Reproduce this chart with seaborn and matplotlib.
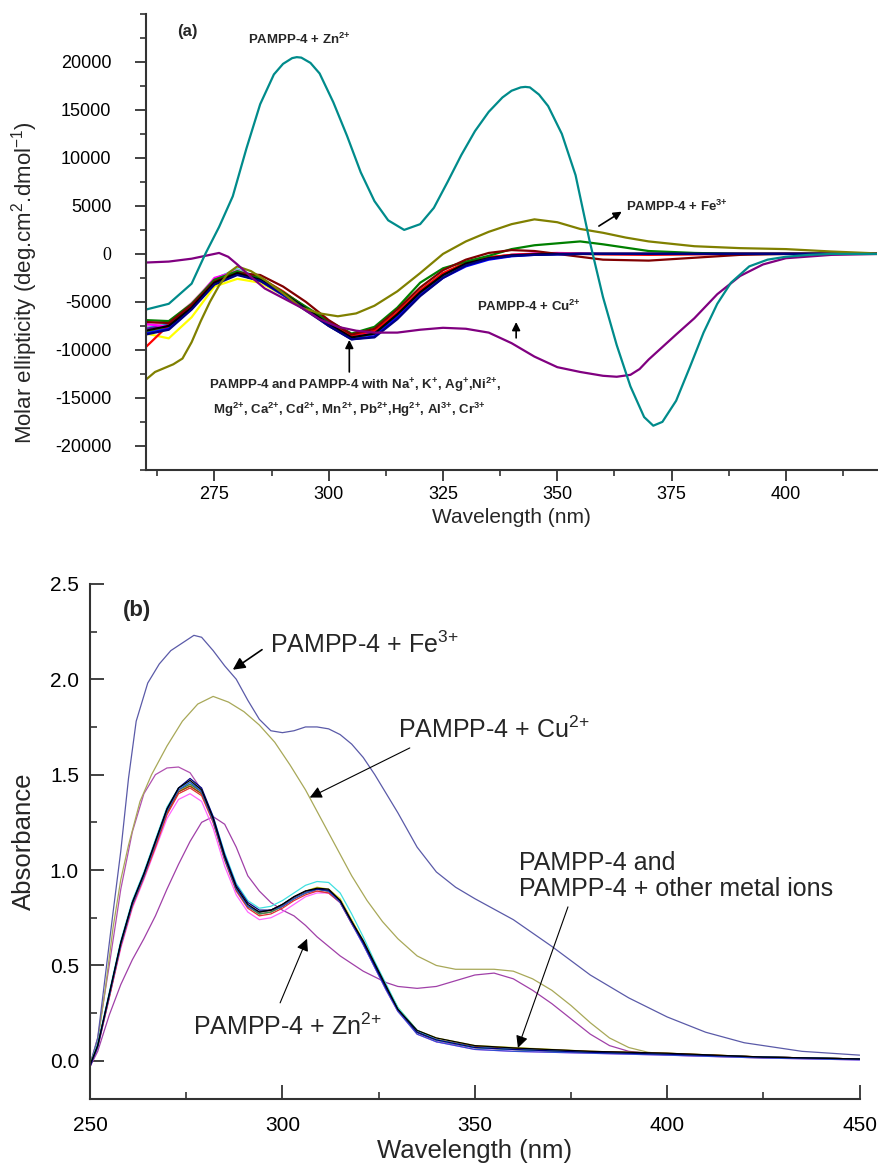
import numpy as np
import pandas as pd
import matplotlib
matplotlib.use("Agg")
import matplotlib.pyplot as plt
from matplotlib.ticker import MultipleLocator
import seaborn as sns

# ---------------- Panel (a): CD spectra ----------------
wl_cd = [260, 265, 270, 275, 280, 285, 290, 295, 300, 305, 310, 315, 320, 325, 330,
         335, 340, 345, 350, 355, 360, 370, 380, 390, 400, 410, 420]
cd_pampp = [-8000, -7500, -5600, -3000, -2000, -2700, -4100, -5700, -7300, -8700, -8300, -6300, -4000, -2200, -1000,
            -450, -150, -50, 0, 0, 0, 0, 0, 0, 0, 0, 0]
cd_na = [-9700, -7400, -5300, -2700, -1900, -2500, -3900, -5600, -7300, -8500, -8000, -6100, -3800, -2000, -900,
         -350, -100, 0, 0, 0, -50, -100, -50, 0, 0, 0, 0]
cd_k = [-6900, -7000, -5200, -2700, -1800, -2500, -4000, -5500, -7000, -8300, -7600, -5600, -3000, -1500, -800,
        -200, 500, 900, 1100, 1300, 1000, 300, 100, 0, 0, 0, 0]
cd_ag = [-8300, -7800, -5700, -3100, -2100, -2800, -4300, -5900, -7500, -8900, -8600, -6600, -4300, -2500, -1300,
         -600, -250, -100, -50, 0, 0, 0, 0, 0, 0, 0, 0]
cd_ni = [-7600, -7300, -5200, -2600, -1600, -2500, -4000, -5600, -7200, -8500, -8100, -6200, -3900, -2100, -1000,
         -400, -100, 0, 0, 0, 0, 0, 0, 0, 0, 0, 0]
cd_mg = [-7300, -7600, -5400, -2500, -1800, -2600, -4100, -5700, -7300, -8600, -8200, -6300, -4000, -2200, -1000,
         -400, -100, 50, 100, 50, 0, 0, 0, 0, 0, 0, 0]
cd_ca = [-8300, -8800, -6600, -3400, -2600, -3000, -4300, -5900, -7500, -8900, -8200, -6200, -3900, -2100, -900,
         -350, -100, 0, 0, 0, 0, 0, 0, 0, 0, 0, 0]
cd_cd = [-8400, -7900, -5800, -3200, -2200, -2800, -4200, -5800, -7500, -8900, -8700, -6800, -4400, -2500, -1200,
         -500, -200, -100, -50, 0, 0, 0, 0, 0, 0, 0, 0]
cd_mn = [-7100, -7200, -5300, -2900, -2000, -2200, -3400, -5000, -6900, -8400, -7800, -5800, -3500, -1700, -600,
         100, 400, 300, 0, -300, -600, -700, -400, -100, 0, 0, 0]
cd_pb = [-8100, -7700, -5500, -2900, -2000, -2700, -4200, -5800, -7500, -8800, -8100, -6200, -3900, -2100, -1000,
         -400, -150, -50, 0, 0, 0, 0, 0, 0, 0, 0, 0]
cd_hg = [-7800, -7400, -5400, -2800, -1900, -2600, -4000, -5600, -7200, -8600, -8400, -6500, -4200, -2400, -1100,
         -500, -200, -50, 0, 0, 0, 0, 0, 0, 0, 0, 0]
cd_al = [-7500, -7100, -5100, -2600, -1700, -2500, -4000, -5600, -7300, -8700, -8200, -6300, -4000, -2200, -1000,
         -400, -100, 0, 0, 0, 0, 0, 0, 0, 0, 0, 0]
cd_cr = [-8200, -7700, -5600, -3000, -2100, -2800, -4200, -5800, -7400, -8800, -8300, -6400, -4100, -2300, -1100,
         -500, -200, -50, 0, 0, 0, 0, 0, 0, 0, 0, 0]

wl_cd_zn = [260, 265, 270, 273, 276, 279, 282, 285, 288, 290, 292, 293, 294, 296, 298, 301, 304, 307, 310, 313,
            316.5, 320, 323, 326, 329, 332, 335, 338, 340, 342, 343, 344, 346, 348, 351, 354, 357, 360, 363, 366,
            369, 371, 373, 376, 379, 382, 385, 388, 392, 396, 400, 405, 410, 420]
cd_zn = [-5800, -5200, -3100, 0, 2800, 6000, 11000, 15600, 18700, 19800, 20400, 20500, 20450, 19900, 18800,
         15800, 12300, 8500, 5500, 3500, 2500, 3100, 4800, 7500, 10300, 12800, 14800, 16300, 17000, 17350,
         17400, 17350, 16600, 15400, 12500, 8200, 1500, -4500, -9500, -13800, -17000, -17900, -17500, -15300,
         -11800, -8200, -5200, -3000, -1300, -600, -300, -100, 0, 0]

wl_cd_cu = [260, 265, 270, 273, 276, 278, 280, 283, 286, 290, 294, 298, 302, 306, 310, 315, 320, 325, 330,
            335, 340, 345, 350, 355, 360, 363, 366, 368, 370, 373, 376, 380, 385, 390, 395, 400, 410, 420]
cd_cu = [-900, -800, -500, -200, 100, -300, -1100, -2400, -3600, -4600, -5600, -6800, -7600, -8000, -8200,
         -8200, -7900, -7700, -7800, -8200, -9300, -10700, -11800, -12300, -12700, -12800, -12600, -12000,
         -11000, -9700, -8400, -6700, -4200, -2300, -1100, -450, -100, 0]

wl_cd_fe = [260, 262, 264, 266, 268, 270, 272, 274, 276, 278, 280, 283, 286, 290, 294, 298, 302, 306, 310,
            315, 320, 325, 330, 335, 340, 345, 350, 355, 360, 365, 370, 380, 390, 400, 410, 420]
cd_fe = [-13100, -12300, -11900, -11500, -10900, -9200, -7000, -5000, -3300, -2000, -1300, -1800, -2700,
         -4100, -5600, -6200, -6500, -6200, -5400, -3900, -2000, 0, 1300, 2300, 3100, 3600, 3300, 2600, 2200,
         1700, 1300, 800, 600, 500, 250, 50]

yticks_a = [-20000, -15000, -10000, -5000, 0, 5000, 10000, 15000, 20000]
ylabels_a = ["-20000", "-15000", "-10000", "-5000", "0", "5000", "10000", "15000", "20000"]
xticks_a = [275, 300, 325, 350, 375, 400]

# ---------------- Panel (b): UV-vis absorbance ----------------
wl_abs = [250, 252, 255, 258, 261, 264, 267, 270, 273, 276, 279, 282, 285, 288, 291, 294, 297, 300, 303, 306,
          309, 312, 315, 318, 321, 324, 327, 330, 335, 340, 350, 360, 380, 400, 425, 450]
ab_black = [-0.02, 0.08, 0.35, 0.62, 0.83, 0.98, 1.15, 1.32, 1.43, 1.47, 1.42, 1.27, 1.07, 0.91, 0.82, 0.78,
            0.79, 0.82, 0.86, 0.89, 0.905, 0.90, 0.84, 0.73, 0.63, 0.51, 0.39, 0.27, 0.16, 0.12, 0.08, 0.068,
            0.05, 0.04, 0.02, 0.01]
ab_red = [-0.03, 0.07, 0.33, 0.60, 0.81, 0.96, 1.12, 1.29, 1.40, 1.43, 1.39, 1.25, 1.05, 0.89, 0.80, 0.76,
          0.77, 0.80, 0.84, 0.87, 0.89, 0.88, 0.83, 0.72, 0.62, 0.50, 0.38, 0.27, 0.15, 0.11, 0.07, 0.06,
          0.045, 0.035, 0.02, 0.01]
ab_green = [-0.02, 0.08, 0.34, 0.61, 0.82, 0.97, 1.14, 1.31, 1.42, 1.45, 1.41, 1.26, 1.06, 0.90, 0.81, 0.77,
            0.78, 0.81, 0.85, 0.88, 0.90, 0.89, 0.84, 0.73, 0.62, 0.50, 0.38, 0.27, 0.15, 0.11, 0.07, 0.06,
            0.045, 0.035, 0.02, 0.01]
ab_blue = [-0.03, 0.07, 0.34, 0.61, 0.82, 0.97, 1.14, 1.31, 1.42, 1.46, 1.41, 1.26, 1.06, 0.90, 0.81, 0.78,
           0.79, 0.81, 0.85, 0.88, 0.90, 0.89, 0.83, 0.72, 0.61, 0.49, 0.37, 0.26, 0.14, 0.10, 0.06, 0.05,
           0.04, 0.03, 0.015, 0.005]
ab_cyan = [-0.02, 0.09, 0.36, 0.63, 0.84, 0.99, 1.16, 1.33, 1.43, 1.46, 1.42, 1.28, 1.09, 0.93, 0.84, 0.80,
           0.81, 0.84, 0.88, 0.92, 0.94, 0.935, 0.88, 0.77, 0.65, 0.52, 0.40, 0.28, 0.16, 0.11, 0.07, 0.06,
           0.045, 0.035, 0.02, 0.01]
ab_pink = [-0.03, 0.07, 0.33, 0.59, 0.80, 0.95, 1.11, 1.27, 1.37, 1.40, 1.36, 1.22, 1.02, 0.87, 0.78, 0.74,
           0.75, 0.78, 0.82, 0.86, 0.88, 0.88, 0.83, 0.72, 0.61, 0.49, 0.37, 0.26, 0.14, 0.10, 0.06, 0.05,
           0.04, 0.03, 0.015, 0.005]
ab_orange = [-0.02, 0.08, 0.34, 0.61, 0.82, 0.97, 1.13, 1.30, 1.41, 1.44, 1.40, 1.26, 1.06, 0.90, 0.81, 0.77,
             0.78, 0.81, 0.85, 0.88, 0.90, 0.89, 0.84, 0.73, 0.62, 0.50, 0.38, 0.27, 0.15, 0.11, 0.07, 0.062,
             0.048, 0.038, 0.02, 0.01]
ab_navy = [-0.03, 0.08, 0.35, 0.62, 0.83, 0.98, 1.15, 1.32, 1.43, 1.48, 1.43, 1.28, 1.08, 0.92, 0.83, 0.79,
           0.79, 0.82, 0.86, 0.89, 0.90, 0.895, 0.84, 0.73, 0.62, 0.50, 0.38, 0.27, 0.15, 0.11, 0.07, 0.06,
           0.045, 0.035, 0.02, 0.01]
ab_brown = [-0.02, 0.08, 0.34, 0.61, 0.82, 0.97, 1.14, 1.30, 1.41, 1.44, 1.40, 1.26, 1.06, 0.90, 0.81, 0.78,
            0.79, 0.81, 0.85, 0.88, 0.90, 0.89, 0.84, 0.73, 0.62, 0.50, 0.38, 0.27, 0.15, 0.11, 0.075, 0.065,
            0.05, 0.04, 0.02, 0.01]
ab_yellow = [-0.02, 0.08, 0.34, 0.61, 0.82, 0.97, 1.14, 1.30, 1.41, 1.45, 1.41, 1.26, 1.06, 0.90, 0.81, 0.78,
             0.79, 0.82, 0.86, 0.89, 0.91, 0.90, 0.85, 0.74, 0.63, 0.51, 0.39, 0.28, 0.16, 0.12, 0.08, 0.07,
             0.05, 0.04, 0.02, 0.01]
ab_violet = [-0.02, 0.12, 0.50, 0.90, 1.20, 1.40, 1.50, 1.535, 1.54, 1.51, 1.42, 1.25, 1.06, 0.90, 0.81, 0.77,
             0.78, 0.81, 0.85, 0.88, 0.89, 0.88, 0.83, 0.72, 0.61, 0.49, 0.37, 0.26, 0.15, 0.10, 0.07, 0.06,
             0.045, 0.035, 0.02, 0.01]

wl_abs_zn = [250, 252, 255, 258, 261, 264, 267, 270, 273, 276, 279, 282, 285, 288, 291, 294, 297, 300, 303,
             306, 309, 312, 315, 318, 321, 324, 327, 330, 335, 340, 345, 350, 355, 360, 365, 370, 375, 380,
             385, 390, 400, 425, 450]
ab_zn = [-0.03, 0.05, 0.24, 0.40, 0.53, 0.64, 0.76, 0.90, 1.03, 1.15, 1.25, 1.28, 1.24, 1.12, 0.97, 0.89,
         0.83, 0.79, 0.76, 0.71, 0.65, 0.60, 0.55, 0.51, 0.47, 0.44, 0.41, 0.39, 0.38, 0.39, 0.42, 0.45, 0.46,
         0.43, 0.37, 0.30, 0.22, 0.14, 0.08, 0.05, 0.03, 0.02, 0.01]

wl_abs_fe = [250, 252, 254, 256, 258, 260, 262, 265, 268, 271, 274, 277, 279, 282, 285, 288, 291, 294, 297,
             300, 303, 306, 309, 312, 315, 318, 321, 324, 327, 330, 335, 340, 345, 350, 360, 370, 380, 390,
             400, 410, 420, 435, 450]
ab_fe = [-0.02, 0.12, 0.45, 0.78, 1.10, 1.48, 1.78, 1.98, 2.08, 2.15, 2.19, 2.23, 2.22, 2.15, 2.07, 2.00,
         1.89, 1.79, 1.73, 1.72, 1.73, 1.75, 1.75, 1.74, 1.71, 1.66, 1.59, 1.50, 1.40, 1.30, 1.12, 0.99,
         0.91, 0.85, 0.74, 0.60, 0.45, 0.33, 0.23, 0.15, 0.095, 0.05, 0.03]

wl_abs_cu = [250, 252, 254, 256, 258, 260, 263, 266, 270, 274, 278, 282, 286, 290, 294, 298, 302, 306, 310,
             314, 318, 322, 326, 330, 335, 340, 345, 350, 355, 360, 365, 370, 375, 380, 385, 390, 395, 400,
             410, 425, 450]
ab_cu = [-0.02, 0.10, 0.38, 0.70, 0.95, 1.13, 1.36, 1.50, 1.65, 1.78, 1.87, 1.91, 1.88, 1.83, 1.76, 1.67,
         1.55, 1.42, 1.27, 1.12, 0.97, 0.84, 0.73, 0.64, 0.55, 0.50, 0.48, 0.48, 0.48, 0.47, 0.43, 0.37, 0.29,
         0.20, 0.12, 0.07, 0.045, 0.035, 0.025, 0.015, 0.01]

yticks_b = [0.0, 0.5, 1.0, 1.5, 2.0, 2.5]
ylabels_b = ["0.0", "0.5", "1.0", "1.5", "2.0", "2.5"]
xticks_b = [250, 300, 350, 400, 450]


def long_form(curves):
    frames = []
    for name, (wl, val) in curves.items():
        frames.append(pd.DataFrame({"wl": wl, "val": val, "curve": name}))
    return pd.concat(frames, ignore_index=True)


curves_a = {
    "PAMPP-4": (wl_cd, cd_pampp), "Na": (wl_cd, cd_na), "K": (wl_cd, cd_k), "Ag": (wl_cd, cd_ag),
    "Ni": (wl_cd, cd_ni), "Mg": (wl_cd, cd_mg), "Ca": (wl_cd, cd_ca), "Cd": (wl_cd, cd_cd),
    "Mn": (wl_cd, cd_mn), "Pb": (wl_cd, cd_pb), "Hg": (wl_cd, cd_hg), "Al": (wl_cd, cd_al),
    "Cr": (wl_cd, cd_cr), "Fe": (wl_cd_fe, cd_fe), "Cu": (wl_cd_cu, cd_cu), "Zn": (wl_cd_zn, cd_zn),
}
pal_a = {"PAMPP-4": "#000000", "Na": "#FF0000", "K": "#008000", "Ag": "#0000FF", "Ni": "#00E0E0",
         "Mg": "#FF00FF", "Ca": "#FFFF00", "Cd": "#000080", "Mn": "#800000", "Pb": "#FF8000",
         "Hg": "#6A0DAD", "Al": "#FF80C0", "Cr": "#2E8B57", "Fe": "#808000", "Cu": "#800080",
         "Zn": "#008B8B"}
order_a = ["Ca", "Ni", "Al", "Pb", "Hg", "Mg", "Cr", "Na", "K", "Mn", "Ag", "PAMPP-4", "Cd", "Fe", "Cu", "Zn"]

curves_b = {
    "PAMPP-4": (wl_abs, ab_black), "Na": (wl_abs, ab_red), "K": (wl_abs, ab_green), "Ag": (wl_abs, ab_blue),
    "Ni": (wl_abs, ab_cyan), "Mg": (wl_abs, ab_pink), "Pb": (wl_abs, ab_orange), "Cd": (wl_abs, ab_navy),
    "Mn": (wl_abs, ab_brown), "Ca": (wl_abs, ab_yellow), "Hg": (wl_abs, ab_violet),
    "Zn": (wl_abs_zn, ab_zn), "Cu": (wl_abs_cu, ab_cu), "Fe": (wl_abs_fe, ab_fe),
}
pal_b = {"PAMPP-4": "#000000", "Na": "#E03030", "K": "#2E8B57", "Ag": "#3050D0", "Ni": "#40E0E0",
         "Mg": "#FF66FF", "Pb": "#E08020", "Cd": "#000080", "Mn": "#8B4513", "Ca": "#D8D820",
         "Hg": "#B050B0", "Zn": "#A040A8", "Cu": "#A8A858", "Fe": "#5A5AA8"}
order_b = ["Hg", "Zn", "Cu", "Fe", "Ca", "Mg", "Pb", "Mn", "Na", "K", "Ni", "Ag", "Cd", "PAMPP-4"]

df_a = long_form(curves_a)
df_b = long_form(curves_b)

sns.set_theme(style="ticks")
plt.rcParams["font.family"] = ["Liberation Sans", "DejaVu Sans"]
plt.rcParams["mathtext.fontset"] = "custom"
plt.rcParams["mathtext.rm"] = "Liberation Sans"
plt.rcParams["mathtext.it"] = "Liberation Sans:italic"
plt.rcParams["mathtext.bf"] = "Liberation Sans:bold"

fig = plt.figure(figsize=(8.79, 11.63), dpi=100)
axa = fig.add_axes([0.166, 0.596, 0.832, 0.392])
axb = fig.add_axes([0.1024, 0.055, 0.8756, 0.443])

# ---- panel (a)
sns.lineplot(data=df_a, x="wl", y="val", hue="curve", hue_order=order_a, palette=pal_a,
             estimator=None, sort=False, legend=False, lw=1.6, ax=axa)
axa.set_xlim(260, 420)
axa.set_ylim(-22500, 25000)
axa.set_xticks(xticks_a)
axa.set_xticklabels([str(t) for t in xticks_a])
axa.set_yticks(yticks_a)
axa.set_yticklabels(ylabels_a)
axa.xaxis.set_minor_locator(MultipleLocator(12.5))
axa.yaxis.set_minor_locator(MultipleLocator(2500))
axa.tick_params(which="major", direction="out", length=8, width=1.3, labelsize=13, colors="#333333",
                labelcolor="black")
axa.tick_params(axis="y", which="major", pad=17)
axa.tick_params(which="minor", direction="out", length=4, width=1.2, colors="#333333")
for lab in axa.get_yticklabels():
    if lab.get_text() == "0":
        lab.set_fontfamily("Liberation Serif")
for s in ["top", "right"]:
    axa.spines[s].set_visible(False)
for s in ["left", "bottom"]:
    axa.spines[s].set_linewidth(1.5)
    axa.spines[s].set_color("#333333")
axa.set_xlabel("Wavelength (nm)", fontsize=15, labelpad=4)
axa.set_ylabel("Molar ellipticity (deg.cm$^{2}$.dmol$^{-1}$)", fontsize=16)
axa.yaxis.set_label_coords(-0.145, 0.41)

bold_kw = dict(fontsize=9.5, fontweight="bold", va="center")
axa.text(269, 23200, "(a)", fontsize=12, fontweight="bold", ha="center", va="center")
axa.text(293.5, 22300, r"PAMPP-4 + Zn$^{\mathbf{2{+}}}$", ha="center", **bold_kw)
axa.text(365, 4900, r"PAMPP-4 + Fe$^{\mathbf{3{+}}}$", ha="left", **bold_kw)
axa.text(332.5, -5500, r"PAMPP-4 + Cu$^{\mathbf{2{+}}}$", ha="left", **bold_kw)
axa.text(273.8, -13650,
         r"PAMPP-4 and PAMPP-4 with Na$^{\mathbf{+}}$, K$^{\mathbf{+}}$, Ag$^{\mathbf{+}}$,Ni$^{\mathbf{2{+}}}$,",
         ha="left", **bold_kw)
axa.text(274.6, -16250,
         r"Mg$^{\mathbf{2{+}}}$, Ca$^{\mathbf{2{+}}}$, Cd$^{\mathbf{2{+}}}$, Mn$^{\mathbf{2{+}}}$, "
         r"Pb$^{\mathbf{2{+}}}$,Hg$^{\mathbf{2{+}}}$, Al$^{\mathbf{3{+}}}$, Cr$^{\mathbf{3{+}}}$",
         ha="left", **bold_kw)
arr_a = dict(arrowstyle="-|>", color="black", lw=1.2, mutation_scale=12, shrinkA=0, shrinkB=0)
axa.annotate("", xy=(364.1, 4400), xytext=(359.1, 2900), arrowprops=arr_a)
axa.annotate("", xy=(341, -7100), xytext=(341, -8750), arrowprops=arr_a)
axa.annotate("", xy=(304.5, -8960), xytext=(304.5, -12300), arrowprops=arr_a)

# ---- panel (b)
sns.lineplot(data=df_b, x="wl", y="val", hue="curve", hue_order=order_b, palette=pal_b,
             estimator=None, sort=False, legend=False, lw=0.9, ax=axb)
axb.set_xlim(250, 450)
axb.set_ylim(-0.2, 2.5)
axb.set_xticks(xticks_b)
axb.set_xticklabels([str(t) for t in xticks_b])
axb.set_yticks(yticks_b)
axb.set_yticklabels(ylabels_b)
axb.xaxis.set_minor_locator(MultipleLocator(25))
axb.yaxis.set_minor_locator(MultipleLocator(0.25))
axb.tick_params(which="major", direction="in", length=10, width=1.3, labelsize=15, colors="#333333",
                labelcolor="black", pad=8)
axb.tick_params(axis="x", which="major", pad=12)
axb.tick_params(which="minor", direction="in", length=5, width=1.2, colors="#333333")
for s in ["top", "right"]:
    axb.spines[s].set_visible(False)
for s in ["left", "bottom"]:
    axb.spines[s].set_linewidth(1.5)
    axb.spines[s].set_color("#333333")
axb.set_xlabel("Wavelength (nm)", fontsize=18.5, labelpad=3)
axb.set_ylabel("Absorbance", fontsize=18.5, labelpad=10)

axb.text(262.2, 2.36, "(b)", fontsize=16, fontweight="bold", ha="center", va="center")
axb.text(296.8, 2.18, r"PAMPP-4 + Fe$^{3{+}}$", fontsize=18, ha="left", va="center")
axb.text(330, 1.735, r"PAMPP-4 + Cu$^{2{+}}$", fontsize=18, ha="left", va="center")
axb.text(361.4, 0.97, "PAMPP-4 and\nPAMPP-4 + other metal ions", fontsize=18, ha="left", va="center",
         linespacing=1.1)
axb.text(276.8, 0.178, r"PAMPP-4 + Zn$^{2{+}}$", fontsize=18, ha="left", va="center")
arr_b = dict(arrowstyle="-|>", color="black", lw=0.8, mutation_scale=18, shrinkA=0, shrinkB=0)
axb.annotate("", xy=(287.1, 2.05), xytext=(294.7, 2.155), arrowprops=dict(arr_b, lw=1.2))
axb.annotate("", xy=(307.1, 1.38), xytext=(333.1, 1.64), arrowprops=arr_b)
axb.annotate("", xy=(361.2, 0.068), xytext=(374.2, 0.807), arrowprops=arr_b)
axb.annotate("", xy=(306.4, 0.64), xytext=(299.4, 0.304), arrowprops=arr_b)

fig.savefig("out.png", dpi=100)
